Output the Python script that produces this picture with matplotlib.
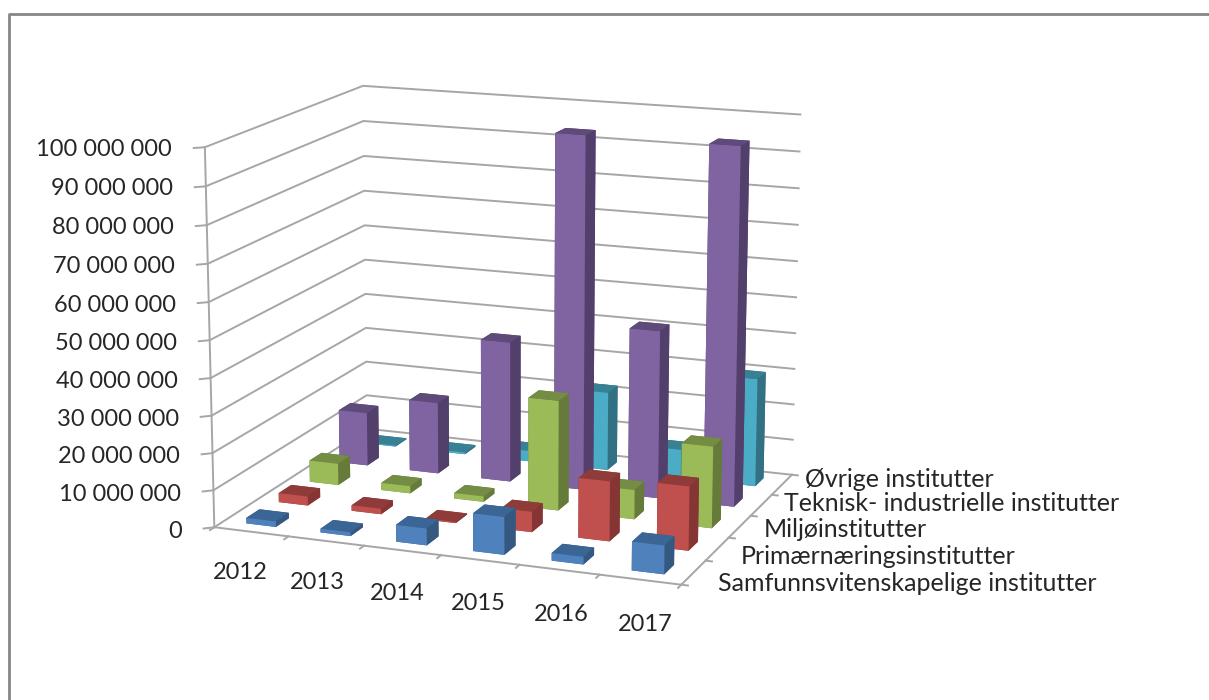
import matplotlib
matplotlib.use('Agg')
import matplotlib.pyplot as plt
from matplotlib.lines import Line2D
from mpl_toolkits.mplot3d import proj3d

years = ['2012', '2013', '2014', '2015', '2016', '2017']
institutes = ['Samfunnsvitenskapelige institutter', 'Primærnæringsinstitutter', 'Miljøinstitutter',
              'Teknisk- industrielle institutter', 'Øvrige institutter']
samfunn = [1.5e6, 1.0e6, 4.5e6, 10e6, 2.0e6, 7.5e6]
primaer = [2.5e6, 1.5e6, 0.3e6, 5.5e6, 16e6, 17e6]
miljo = [6e6, 2e6, 1.5e6, 30e6, 8e6, 22e6]
teknisk = [15e6, 20e6, 39e6, 97e6, 46e6, 97e6]
ovrige = [0.3e6, 0.5e6, 3e6, 22e6, 8e6, 30e6]
series = [samfunn, primaer, miljo, teknisk, ovrige]
y_ticks = [0, 10e6, 20e6, 30e6, 40e6, 50e6, 60e6, 70e6, 80e6, 90e6, 100e6]

# front, top, side colour per series
colors = [('#4F81BD', '#3A6595', '#34587F'),
          ('#C0504D', '#8F3B39', '#853634'),
          ('#9BBB59', '#748C43', '#667B3A'),
          ('#8064A2', '#5F4B79', '#533F6B'),
          ('#4BACC6', '#388194', '#317183')]
GRAY = '#A6A6A6'
TEXT = '#262626'

plt.rcParams['font.family'] = ['Lato', 'DejaVu Sans']

fig = plt.figure(figsize=(12.09, 7.0), dpi=100)
ax = fig.add_axes([-0.085, 0.032, 1, 1], projection='3d')
ax.set_proj_type('persp', focal_length=0.8)
ax.view_init(elev=14, azim=-69)
ax.set_box_aspect((1.7, 1.32, 1.34), zoom=1.0)
ax.computed_zorder = False
ax.set_axis_off()

nx = len(years)
ny = len(institutes)
top = y_ticks[-1]
ax.set_xlim(0, nx)
ax.set_ylim(0, ny)
ax.set_zlim(0, top)
fig.canvas.draw()


def label(x, y, z, s, **kw):
    # project the 3d spot down to the figure so the text is a plain 2d text
    px, py, _ = proj3d.proj_transform(x, y, z, ax.get_proj())
    fx, fy = fig.transFigure.inverted().transform(ax.transData.transform((px, py)))
    fig.text(fx, fy, s, color=TEXT, va='center', **kw)


# walls
for t in y_ticks:
    ax.plot([0, 0, nx], [0, ny, ny], [t, t, t], color=GRAY, lw=1.4, zorder=1)
    ax.plot([0, -0.1], [0, -0.1], [t, t], color=GRAY, lw=1.4, zorder=1)
    label(-0.3, -0.3, t, f'{int(t):,}'.replace(',', ' '), ha='right', fontsize=17)
ax.plot([0, 0], [0, 0], [0, top], color=GRAY, lw=1.4, zorder=1)

# floor edges and ticks
ax.plot([0, nx, nx], [0, 0, ny], [0, 0, 0], color=GRAY, lw=1.4, zorder=1)
for i in range(nx + 1):
    ax.plot([i, i], [0, -0.13], [0, 0], color=GRAY, lw=1.4, zorder=1)
for j in range(ny + 1):
    ax.plot([nx, nx + 0.08], [j, j], [0, 0], color=GRAY, lw=1.4, zorder=1)

for i, year in enumerate(years):
    label(i + 1.05, -1.55, 0, year, ha='center', fontsize=17)
for j, name in enumerate(institutes):
    label(nx + 0.3, j + 0.5, (j - 2) * 1.1e6, name, ha='left', fontsize=18)

# bars, painted back to front
bar_w = 0.4
bar_d = 0.4
z = 2
for j in range(ny - 1, -1, -1):
    for i in range(nx):
        f, t, s = colors[j]
        face_colors = [t, t, f, s, s, s]
        ax.bar3d(i + 0.5 - bar_w / 2, j + 0.5 - bar_d / 2, 0, bar_w, bar_d, series[j][i],
                 color=face_colors, shade=False, linewidth=0, zorder=z)
        z += 1

# outer frame of the screenshot
fig.add_artist(Line2D([9 / 1209, 9 / 1209, 1], [0, 1 - 14 / 700, 1 - 14 / 700], color='#868686', lw=2))

fig.savefig('out.png', dpi=100)
